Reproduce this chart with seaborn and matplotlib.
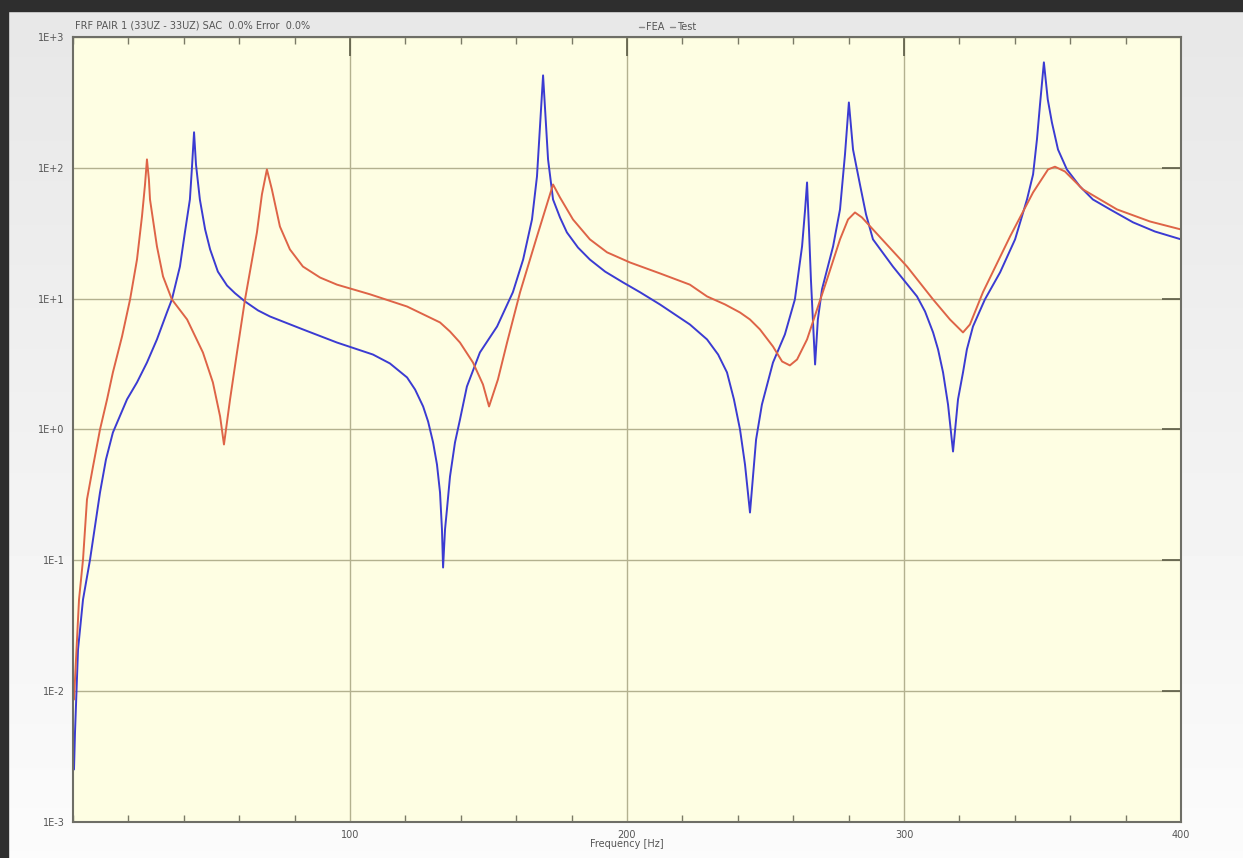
import numpy as np
import pandas as pd
import matplotlib
matplotlib.use("Agg")
import matplotlib.pyplot as plt
from matplotlib.patches import Rectangle
from matplotlib.ticker import FixedLocator, MultipleLocator, NullLocator
import seaborn as sns

# ---- FRF magnitude data (frequency in Hz, magnitude) ----
fea_freq = [0.36, 0.72, 1.81, 3.61, 6.14, 9.75, 11.9, 14.4, 19.5, 23.1, 26.7, 30.3, 33.9,
            35.7, 38.6, 40.4, 42.2, 42.9, 43.7, 44.4, 45.8, 47.7, 49.5, 52.3, 55.6, 58.5,
            62.1, 66.8, 71.1, 83.0, 95.3, 108.3, 114.4, 120.6, 123.5, 126.4, 128.2, 130.0,
            131.4, 132.5, 133.2, 133.6, 134.3, 135.0, 136.1, 137.9, 139.7, 142.2, 146.9,
            153.1, 158.8, 162.5, 165.7, 167.5, 168.6, 169.7, 170.8, 171.5, 173.3, 175.8,
            178.3, 182.3, 186.6, 192.1, 198.6, 204.7, 211.9, 222.7, 228.9, 232.9, 236.1,
            238.6, 240.8, 242.6, 244.4, 245.1, 246.6, 248.7, 252.7, 257.0, 260.6, 263.2,
            264.3, 265.0, 265.7, 266.4, 267.9, 268.9, 270.4, 274.4, 276.9, 278.7, 280.1,
            281.6, 284.1, 286.3, 288.8, 296.0, 300.4, 304.7, 307.6, 310.5, 312.3, 314.1,
            315.9, 317.7, 319.5, 321.3, 322.7, 324.9, 329.2, 334.7, 340.1, 344.4, 346.6,
            348.0, 349.1, 350.5, 351.9, 353.4, 355.6, 358.8, 363.5, 368.2, 374.4, 382.7,
            390.6, 400.0]
fea_mag = [0.00252, 0.00482, 0.0208, 0.0501, 0.101, 0.330, 0.590, 0.948, 1.70, 2.29, 3.25,
           4.88, 7.84, 9.86, 17.6, 32.1, 57.3, 97.2, 187, 106, 57.3, 33.8, 23.8, 16.1,
           12.6, 11.0, 9.52, 8.13, 7.31, 5.82, 4.62, 3.74, 3.20, 2.50, 2.02, 1.50, 1.15,
           0.796, 0.540, 0.330, 0.172, 0.0881, 0.172, 0.245, 0.437, 0.796, 1.19, 2.13,
           3.88, 6.13, 11.2, 19.9, 40.3, 85.9, 207, 509, 207, 116, 57.3, 41.8,
           32.1, 24.6, 19.9, 16.1, 13.3, 11.2, 9.03, 6.35, 4.88, 3.74, 2.73,
           1.70, 1.00, 0.540, 0.232, 0.348, 0.839, 1.55, 3.25, 5.33, 9.86, 25.1,
           48.1, 77.3, 33.8, 14.0, 3.14, 6.93, 11.8, 25.1, 48.1, 127, 316,
           138, 74.6, 44.0, 28.4, 17.6, 13.5, 10.4, 7.98, 5.52, 4.09, 2.73,
           1.55, 0.679, 1.70, 2.73, 4.09, 6.13, 9.86, 15.9, 28.4, 57.3, 89.1,
           165, 305, 640, 333, 222, 138, 97.2, 72.1, 57.3, 48.1, 38.3,
           32.6, 28.4]

test_freq = [0.36, 1.08, 2.17, 3.61, 5.05, 7.22, 9.75, 12.3, 14.4, 17.7, 20.6, 23.1, 24.9,
             26.0, 26.7, 27.4, 27.8, 30.3, 32.5, 35.7, 41.2, 46.9, 50.5, 53.1, 54.5, 56.7,
             59.2, 62.1, 66.4, 68.2, 70.0, 71.8, 74.7, 78.3, 83.0, 89.2, 95.3, 107.2,
             120.6, 132.5, 136.1, 139.7, 144.4, 148.0, 150.2, 153.4, 156.7, 161.4, 167.5,
             173.3, 175.8, 180.5, 186.6, 192.8, 201.1, 211.9, 222.7, 228.9, 235.4, 240.8,
             244.4, 248.0, 252.7, 256.0, 258.8, 261.4, 265.0, 272.2, 276.9, 279.8, 282.3,
             284.8, 288.8, 301.1, 310.5, 316.6, 321.3, 323.8, 328.5, 338.3, 346.6, 352.0,
             354.5, 358.1, 364.6, 376.9, 388.8, 400.0]
test_mag = [0.00863, 0.0174, 0.0501, 0.101, 0.292, 0.521, 1.00, 1.70, 2.73, 5.14, 9.86,
            19.9, 42.5, 74.6, 116, 81.5, 57.3, 25.1, 14.8, 9.86, 6.93, 3.88, 2.29, 1.26,
            0.768, 1.70, 3.88, 9.86, 32.1, 62.6, 97.2, 68.4, 35.6, 23.8, 17.6, 14.5, 12.8,
            10.8, 8.71, 6.58, 5.61, 4.62, 3.25, 2.21, 1.50, 2.41, 4.62, 11.2, 29.9,
            74.6, 59.4, 40.3, 28.4, 22.6, 18.9, 15.6, 12.8, 10.4, 9.03, 7.84,
            6.93, 5.82, 4.31, 3.31, 3.09, 3.43, 4.88, 14.0, 28.4, 40.3, 45.6,
            41.8, 33.8, 17.6, 9.86, 6.93, 5.52, 6.35, 11.2, 29.9, 64.9, 97.2,
            102, 93.8, 68.4, 48.1, 38.9, 33.8]

series_names = ["FEA", "Test"]
series_colors = ["#3b3bd2", "#de6447"]
x_ticks = [100, 200, 300, 400]
y_ticks = [1e-3, 1e-2, 1e-1, 1e0, 1e1, 1e2, 1e3]
y_tick_labels = ["1E-3", "1E-2", "1E-1", "1E+0", "1E+1", "1E+2", "1E+3"]
title_text = "FRF PAIR 1 (33UZ - 33UZ) SAC  0.0% Error  0.0%"
x_label = "Frequency [Hz]"

df = pd.concat([
    pd.DataFrame({"freq": fea_freq, "mag": fea_mag, "series": series_names[0]}),
    pd.DataFrame({"freq": test_freq, "mag": test_mag, "series": series_names[1]}),
], ignore_index=True)

sns.set_style("white")
plt.rcParams["font.family"] = ["DejaVu Sans"]

W, H, DPI = 12.43, 8.58, 100
fig = plt.figure(figsize=(W, H), dpi=DPI)

# window background: soft grey gradient with a dark frame at top/left
bg = fig.add_axes([0, 0, 1, 1], zorder=-10)
grad = np.linspace(0.905, 0.985, 256).reshape(-1, 1)
bg.imshow(grad, aspect="auto", cmap="gray", vmin=0, vmax=1,
          extent=[0, 1, 0, 1], origin="upper")
bg.set_xlim(0, 1)
bg.set_ylim(0, 1)
bg.axis("off")
fig.patches.append(Rectangle((0, 1 - 11 / 858), 1, 11 / 858, transform=fig.transFigure,
                             color="#2e2e2e", zorder=5))
fig.patches.append(Rectangle((0, 0), 8 / 1243, 1, transform=fig.transFigure,
                             color="#2e2e2e", zorder=5))

ax = fig.add_axes([73 / 1243, 1 - 822 / 858, (1181 - 73) / 1243, (822 - 37) / 858])
ax.set_facecolor("#fefee3")

sns.lineplot(data=df, x="freq", y="mag", hue="series", palette=series_colors,
             estimator=None, sort=False, linewidth=1.4, ax=ax, legend=False)

ax.set_yscale("log")
ax.set_xlim(0, 400)
ax.set_ylim(1e-3, 1e3)

ax.xaxis.set_major_locator(FixedLocator(x_ticks))
ax.xaxis.set_minor_locator(MultipleLocator(20))
ax.set_xticklabels([str(v) for v in x_ticks])
ax.yaxis.set_major_locator(FixedLocator(y_ticks))
ax.yaxis.set_minor_locator(NullLocator())
ax.set_yticklabels(y_tick_labels)

ax.grid(True, which="major", color="#b3b18f", linewidth=1.0)
ax.set_axisbelow(True)
ax.tick_params(axis="both", which="major", direction="in", top=True, right=True,
               length=14, width=1.2, color="#5b5b45", labelsize=7, labelcolor="#555555",
               pad=6)
ax.tick_params(axis="x", which="minor", direction="in", top=True, bottom=True,
               length=5, width=1.0, color="#7a7a66")
for s in ax.spines.values():
    s.set_color("#6e6e66")
    s.set_linewidth(1.5)

ax.set_xlabel(x_label, fontsize=7, color="#555555", labelpad=-1)
ax.set_ylabel("")

fig.text(75 / 1243, 1 - 25 / 858, title_text, fontsize=7, color="#555555",
         ha="left", va="center")

handles = [plt.Line2D([], [], color="#888888", linewidth=1.0) for _ in series_names]
fig.legend(handles, series_names, loc="center", bbox_to_anchor=(668 / 1243, 1 - 27 / 858),
           ncol=2, frameon=False, fontsize=7, handlelength=0.5, handletextpad=0.2,
           columnspacing=0.6, labelcolor="#555555")

fig.savefig("out.png", dpi=DPI)
